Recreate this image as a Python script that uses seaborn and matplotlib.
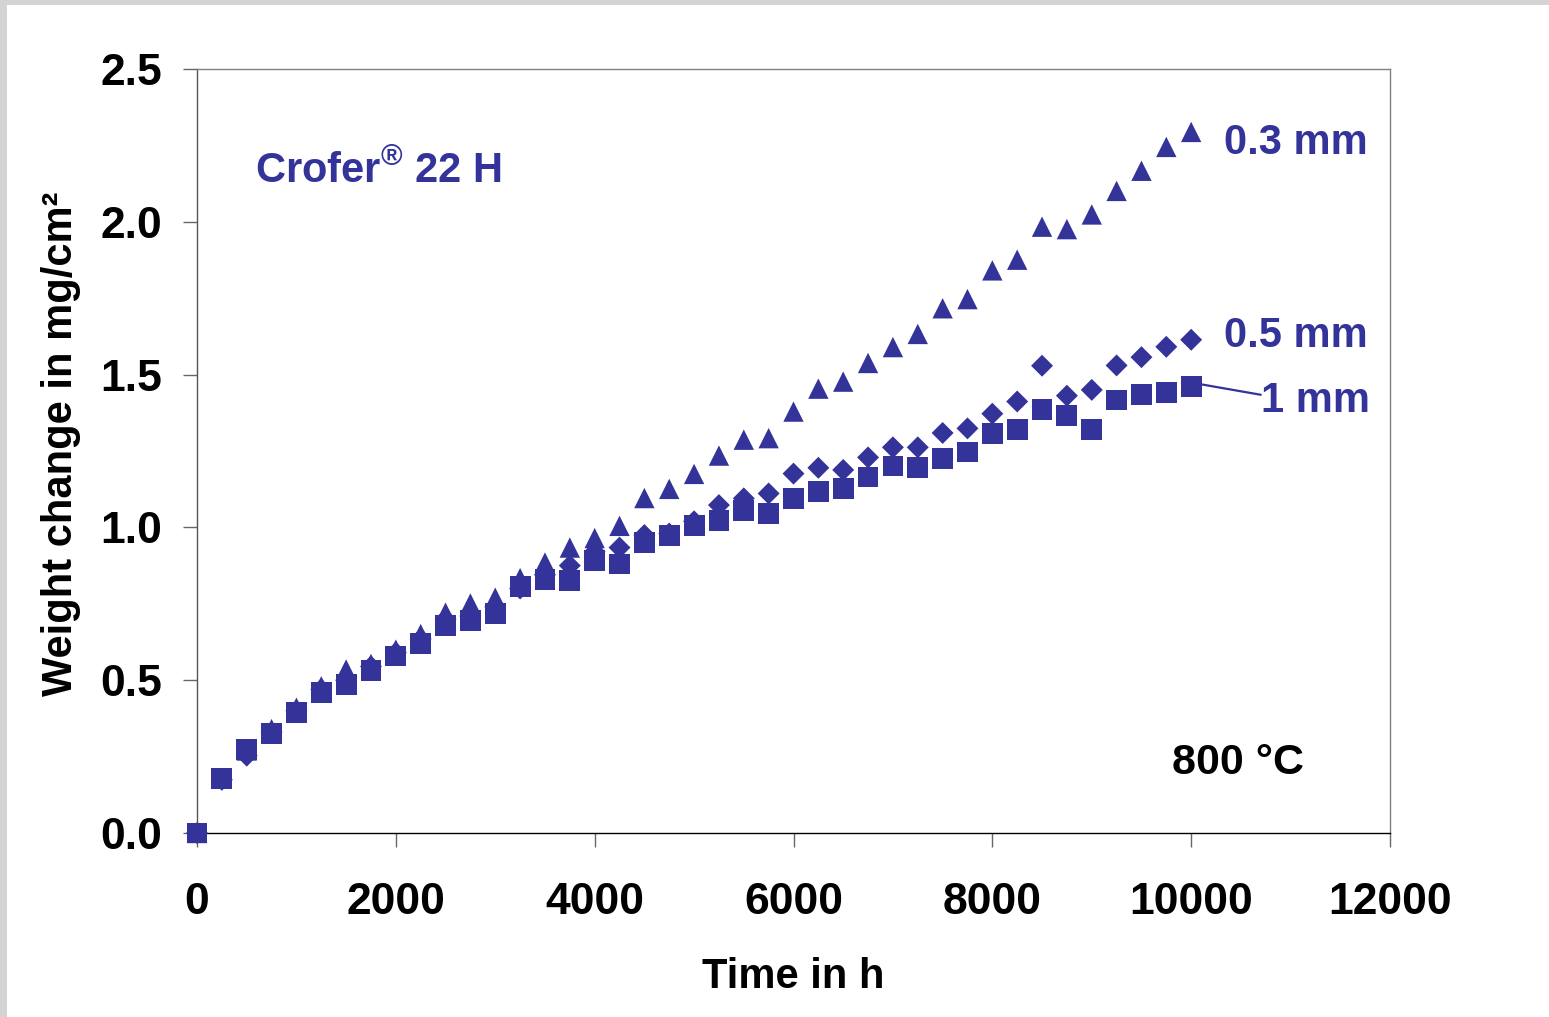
import matplotlib
matplotlib.use("Agg")
import matplotlib.pyplot as plt
from matplotlib.patches import Rectangle
import seaborn as sns
import pandas as pd

# ---- data ----
time_h = [0, 250, 500, 750, 1000, 1250, 1500, 1750, 2000, 2250, 2500, 2750, 3000,
          3250, 3500, 3750, 4000, 4250, 4500, 4750, 5000, 5250, 5500, 5750, 6000,
          6250, 6500, 6750, 7000, 7250, 7500, 7750, 8000, 8250, 8500, 8750, 9000,
          9250, 9500, 9750, 10000]

w_03mm = [0.0, 0.18, 0.27, 0.34, 0.41, 0.48, 0.535, 0.553, 0.60, 0.651, 0.721, 0.751,
          0.770, 0.834, 0.885, 0.934, 0.965, 1.005, 1.096, 1.126, 1.175, 1.235, 1.287,
          1.292, 1.379, 1.454, 1.477, 1.538, 1.590, 1.633, 1.717, 1.747, 1.841, 1.876,
          1.984, 1.976, 2.024, 2.101, 2.167, 2.245, 2.294]

w_05mm = [0.0, 0.174, 0.253, 0.33, 0.40, 0.47, 0.50, 0.545, 0.59, 0.635, 0.70, 0.71,
          0.74, 0.80, 0.845, 0.875, 0.92, 0.934, 0.975, 0.98, 1.02, 1.073, 1.095,
          1.111, 1.176, 1.195, 1.188, 1.229, 1.262, 1.262, 1.309, 1.324, 1.372, 1.412,
          1.529, 1.431, 1.450, 1.530, 1.557, 1.591, 1.614]

w_1mm = [0.0, 0.179, 0.272, 0.325, 0.394, 0.461, 0.487, 0.533, 0.579, 0.621, 0.678,
         0.694, 0.718, 0.806, 0.829, 0.826, 0.891, 0.880, 0.950, 0.974, 1.005, 1.022,
         1.054, 1.046, 1.095, 1.118, 1.126, 1.165, 1.201, 1.195, 1.225, 1.247, 1.306,
         1.319, 1.386, 1.367, 1.319, 1.417, 1.434, 1.441, 1.462]

series_labels = ["0.3 mm", "0.5 mm", "1 mm"]
x_ticks = [0, 2000, 4000, 6000, 8000, 10000, 12000]
y_ticks = [0.0, 0.5, 1.0, 1.5, 2.0, 2.5]

# ---- style ----
sns.set_theme(style="ticks")
plt.rcParams['font.family'] = ['Liberation Sans', 'DejaVu Sans']
plt.rcParams['font.weight'] = 'bold'
plt.rcParams['mathtext.fontset'] = 'custom'
plt.rcParams['mathtext.rm'] = 'Liberation Sans:bold'
plt.rcParams['mathtext.bf'] = 'Liberation Sans:bold'

BLUE = '#333399'

fig = plt.figure(figsize=(15.49, 10.17), dpi=100)
fig.patch.set_facecolor('#d4d4d4')
fig.add_artist(Rectangle((7 / 1549, 0), 1, (1017 - 5) / 1017, transform=fig.transFigure,
                         facecolor='white', edgecolor='none', zorder=-10))

ax = fig.add_axes([197 / 1549, 1 - 833 / 1017, (1390 - 197) / 1549, (833 - 69) / 1017])
ax.set_facecolor('white')

df = pd.DataFrame({"time": time_h, "w03": w_03mm, "w05": w_05mm, "w1": w_1mm})

sns.scatterplot(data=df, x="time", y="w03", marker='^', s=215, color=BLUE,
                edgecolor='none', ax=ax, clip_on=False, zorder=3)
sns.scatterplot(data=df, x="time", y="w05", marker='D', s=125, color=BLUE,
                edgecolor='none', ax=ax, clip_on=False, zorder=4)
sns.scatterplot(data=df, x="time", y="w1", marker='s', s=225, color=BLUE,
                edgecolor='none', ax=ax, clip_on=False, zorder=5)

ax.set_xlim(0, 12000)
ax.set_ylim(0, 2.5)
ax.set_xticks(x_ticks)
ax.set_xticklabels([str(t) for t in x_ticks])
ax.set_yticks(y_ticks)
ax.set_yticklabels([f"{t:.1f}" for t in y_ticks])

ax.tick_params(axis='both', direction='out', length=10, width=1.0, color='#666666',
               labelsize=32, labelcolor='black')
ax.tick_params(axis='y', pad=15)
ax.tick_params(axis='x', pad=25)
for lab in ax.get_xticklabels() + ax.get_yticklabels():
    lab.set_fontweight('bold')

for side in ['top', 'right']:
    ax.spines[side].set_visible(True)
    ax.spines[side].set_color('#808080')
    ax.spines[side].set_linewidth(1.0)
ax.spines['left'].set_color('#555555')
ax.spines['left'].set_linewidth(1.0)
ax.spines['bottom'].set_color('black')
ax.spines['bottom'].set_linewidth(1.0)

ax.set_xlabel("Time in h", fontsize=30, fontweight='bold', color='black')
ax.set_ylabel("Weight change in mg/cm²", fontsize=30, fontweight='bold', color='black')
ax.xaxis.set_label_coords(0.5, -0.162)
ax.yaxis.set_label_coords(-0.097, 0.51)

# annotations
ax.text(583, 2.166, r"Crofer$^{\mathbf{®}}$ 22 H", fontsize=30, fontweight='bold',
        color=BLUE, ha='left', va='center')
ax.text(9807, 0.229, "800 °C", fontsize=31, fontweight='bold', color='black',
        ha='left', va='center')
ax.text(10330, 2.258, series_labels[0], fontsize=30, fontweight='bold', color=BLUE,
        ha='left', va='center')
ax.text(10330, 1.625, series_labels[1], fontsize=30, fontweight='bold', color=BLUE,
        ha='left', va='center')
ax.text(10705, 1.415, series_labels[2], fontsize=30, fontweight='bold', color=BLUE,
        ha='left', va='center')
ax.plot([10050, 10700], [1.471, 1.434], color=BLUE, lw=1.6, clip_on=False, zorder=2)

fig.savefig("out.png", dpi=100, facecolor=fig.get_facecolor())
